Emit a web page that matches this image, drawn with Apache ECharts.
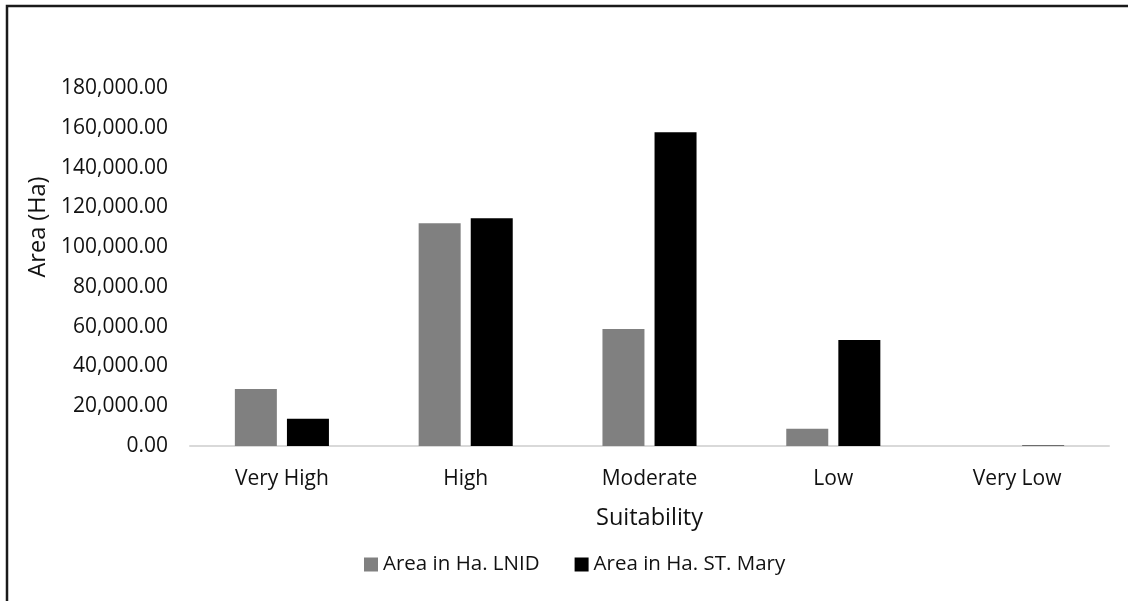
<!DOCTYPE html>
<html>
<head>
<meta charset="utf-8">
<title>Suitability area</title>
<script src="https://cdn.jsdelivr.net/npm/echarts@6/dist/echarts.min.js"></script>
<style>
  html, body { margin: 0; padding: 0; background: #ffffff; }
  #chart { width: 1128px; height: 601px; }
</style>
</head>
<body>
<div id="chart"></div>
<script>
// Suitability classes and area (hectares) for each district
const categories = ['Very High', 'High', 'Moderate', 'Low', 'Very Low'];
const areaLNID = [28700, 112000, 58800, 8650, 0];
const areaStMary = [13700, 114500, 157700, 53300, 200];
const seriesNames = ['Area in Ha. LNID', 'Area in Ha. ST. Mary'];

const FONT = '"Open Sans", "Noto Sans", sans-serif';
const TEXT = '#111111';

const fmt = v => v.toLocaleString('en-US', { minimumFractionDigits: 2, maximumFractionDigits: 2 });

const chart = echarts.init(document.getElementById('chart'), null, { renderer: 'canvas' });

chart.setOption({
  backgroundColor: '#ffffff',
  animation: false,
  textStyle: { fontFamily: FONT, color: TEXT },
  grid: { left: 190, right: 19, top: 88, bottom: 155, containLabel: false },
  legend: {
    left: 359,
    top: 549,
    itemWidth: 14,
    itemHeight: 14,
    itemGap: 35,
    icon: 'rect',
    textStyle: { fontFamily: FONT, fontSize: 20.5, color: TEXT },
    data: seriesNames
  },
  xAxis: {
    type: 'category',
    data: categories,
    name: 'Suitability',
    nameLocation: 'middle',
    nameGap: 60,
    nameTextStyle: { fontFamily: FONT, fontSize: 23.5, color: TEXT },
    axisLine: { show: true, lineStyle: { color: '#d9d9d9', width: 2 } },
    axisTick: { show: false },
    axisLabel: { fontFamily: FONT, fontSize: 21, color: TEXT, margin: 23 },
    splitLine: { show: false }
  },
  yAxis: {
    type: 'value',
    min: 0,
    max: 180000,
    interval: 20000,
    name: 'Area (Ha)',
    nameLocation: 'middle',
    nameGap: 136,
    nameTextStyle: { fontFamily: FONT, fontSize: 23.5, color: TEXT, padding: [0, 0, 0, 80] },
    axisLine: { show: false },
    axisTick: { show: false },
    axisLabel: { fontFamily: FONT, fontSize: 21, color: TEXT, margin: 22, formatter: fmt },
    splitLine: { show: false }
  },
  series: [
    {
      name: seriesNames[0],
      type: 'bar',
      data: areaLNID,
      barWidth: 42,
      barGap: '24%',
      itemStyle: { color: '#808080' }
    },
    {
      name: seriesNames[1],
      type: 'bar',
      data: areaStMary,
      barWidth: 42,
      barGap: '24%',
      itemStyle: { color: '#000000' }
    }
  ],
  graphic: [
    // chart frame (top and left edges)
    {
      type: 'polyline',
      silent: true,
      shape: { points: [[7, 601], [7, 6], [1128, 6]] },
      style: { stroke: '#1a1a1a', lineWidth: 2.5, fill: null }
    }
  ]
});
</script>
</body>
</html>
